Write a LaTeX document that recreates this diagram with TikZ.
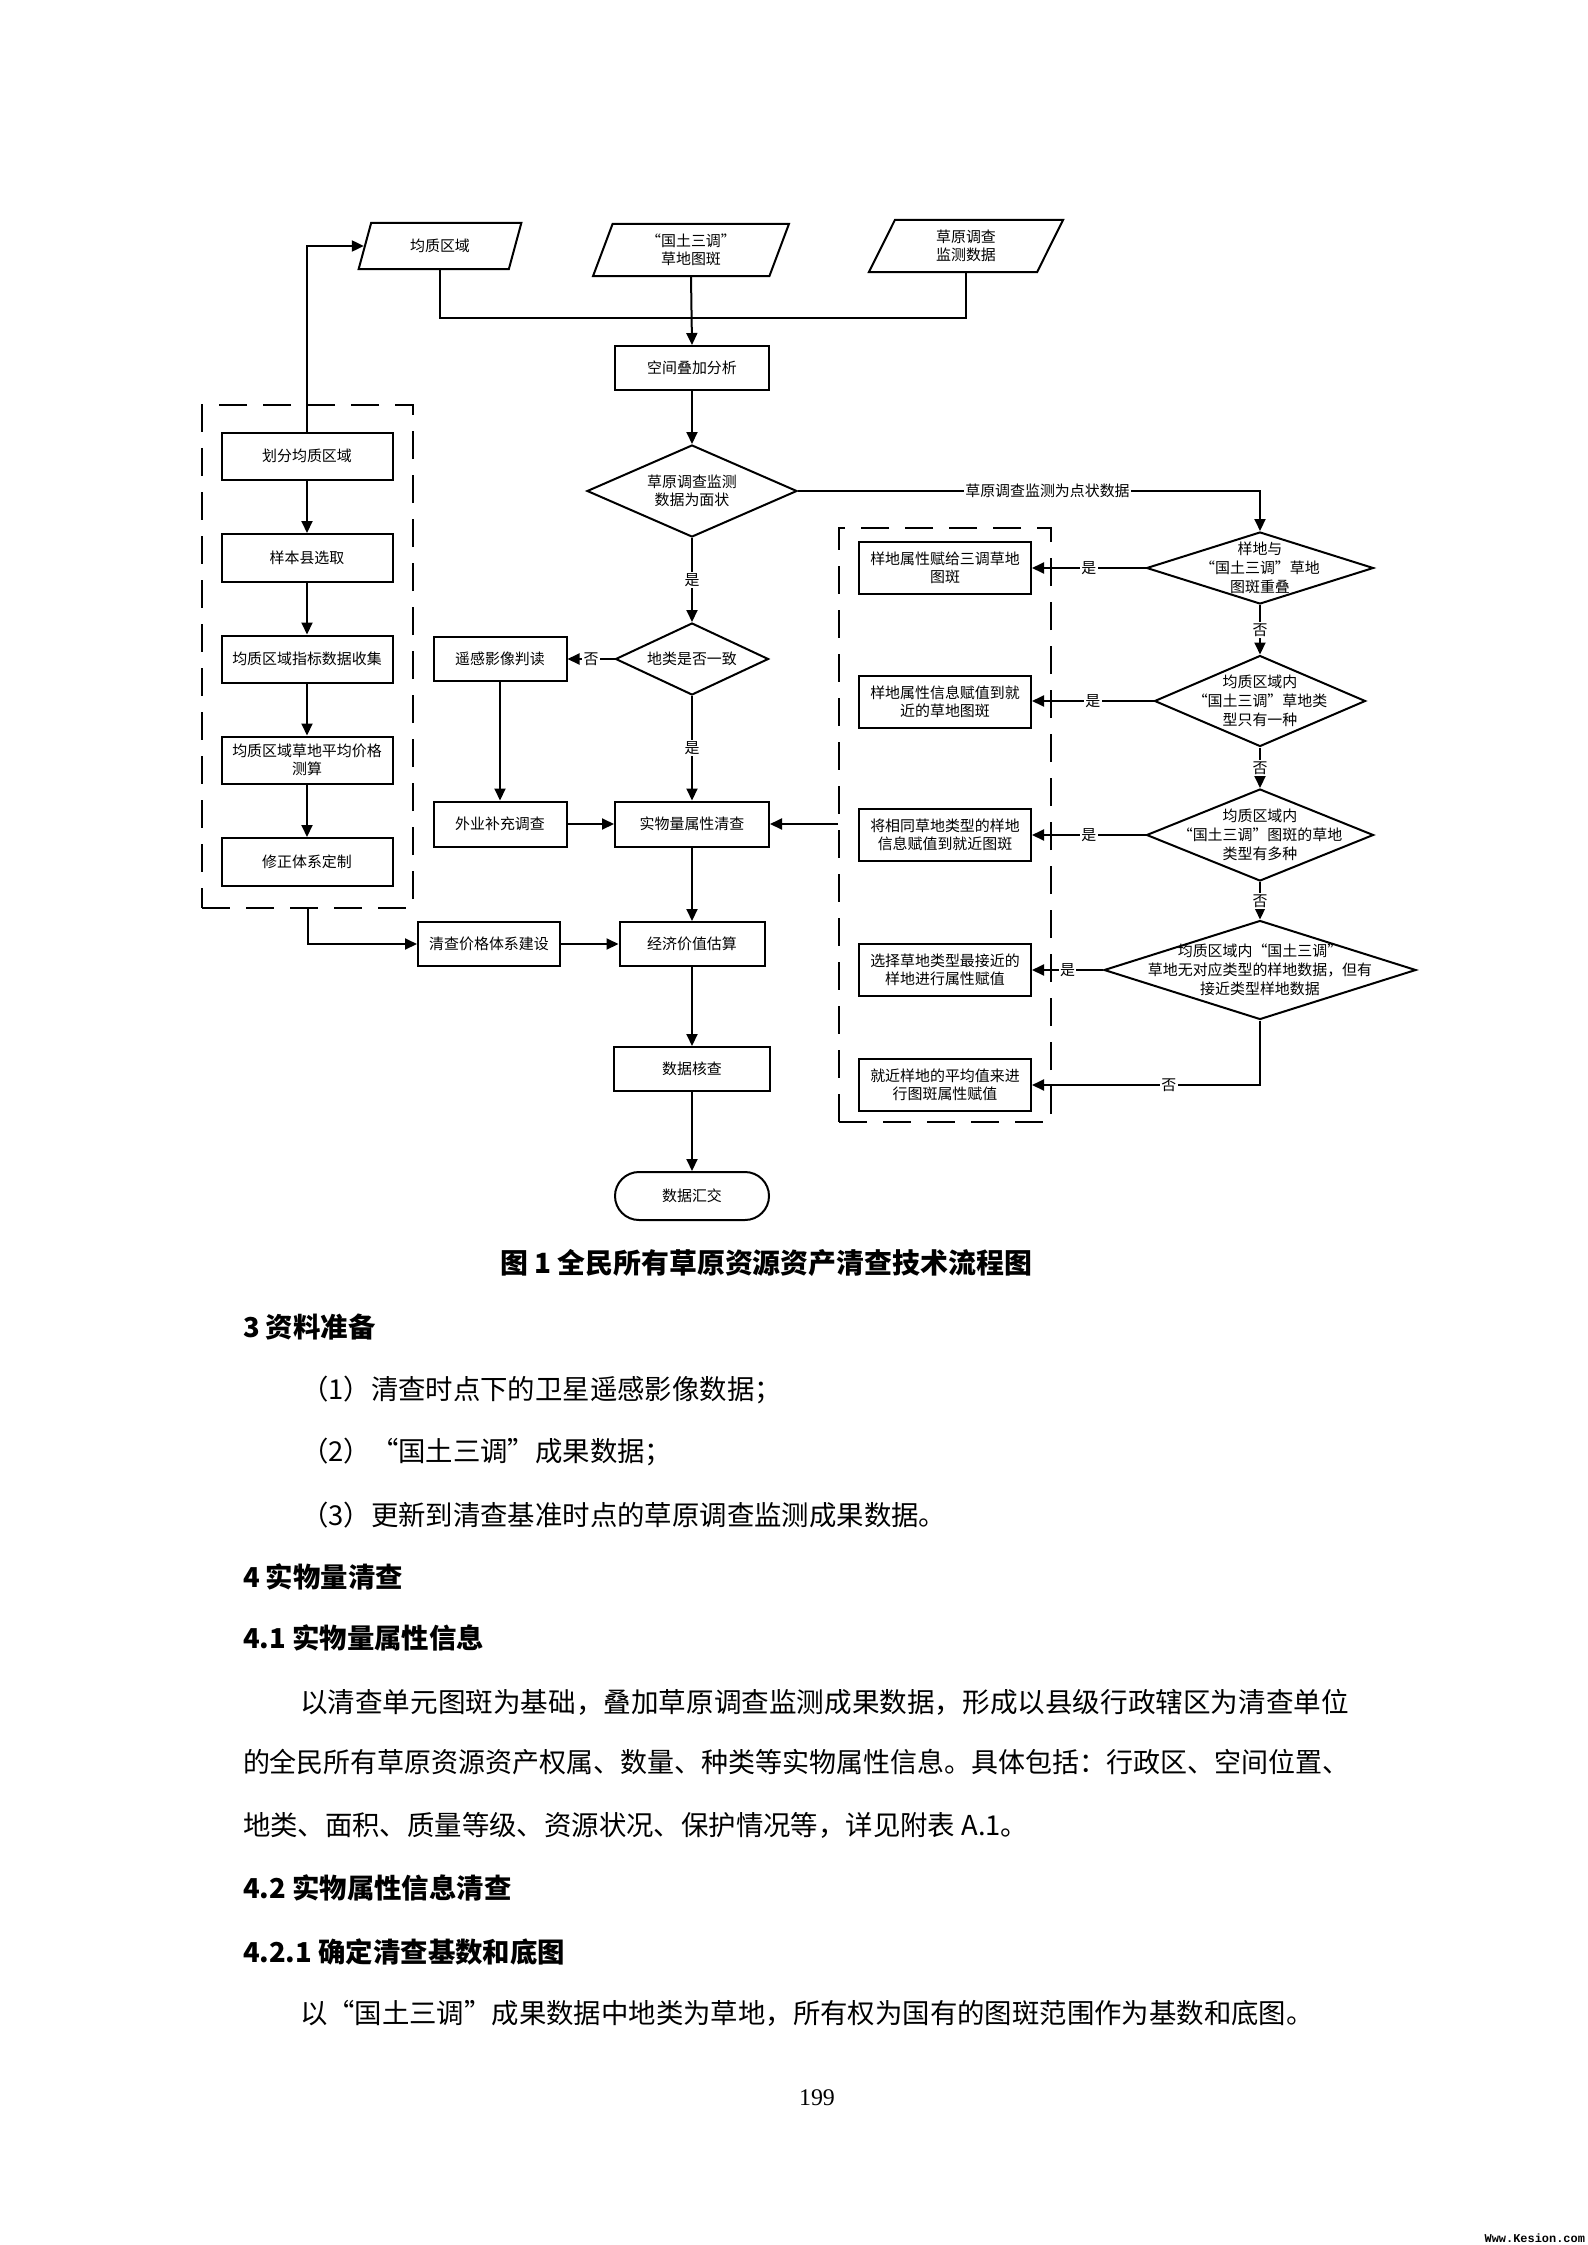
\documentclass[tikz,border=0pt]{standalone}
\usepackage{fontspec}
\usepackage{graphicx}
\setmainfont{Liberation Serif}
\newfontfamily\cjk{Noto Sans CJK SC}
\newfontfamily\wmfont{Liberation Mono}
\usetikzlibrary{arrows.meta, positioning, shapes.geometric, calc}

\begin{document}
\begin{tikzpicture}[x=1bp, y=-1bp, line width=2bp,
    font=\cjk\fontsize{15}{18}\selectfont,
    proc/.style={rectangle, draw, minimum width=#1, minimum height=44bp, inner sep=2bp, align=center},
    io/.style={trapezium, trapezium left angle=72, trapezium right angle=108, trapezium stretches=true,
        draw, minimum width=#1, minimum height=46bp, inner sep=2bp, align=center},
    dec/.style={diamond, draw, inner sep=0pt},
    grp/.style={draw, dash pattern=on 28bp off 16bp, inner sep=0pt},
    arr/.style={-{Triangle[length=12bp, width=11bp]}},
    lbl/.style={fill=white, inner sep=1.5bp},
    para/.style={anchor=west, inner sep=0pt, font=\cjk\fontsize{27.5}{30}\selectfont},
    head/.style={anchor=west, inner sep=0pt, font=\cjk\bfseries\fontsize{27.5}{30}\selectfont}]

    % page
    \fill[white] (0,0) rectangle (1587,2245);
    \useasboundingbox (0,0) rectangle (1587,2245);

    % input data
    \node[io=163bp] (junzhi) at (440,246) {均质区域};
    \node[io=196bp, minimum height=52bp] (guotu) at (691,250) {“国土三调”\\草地图斑};
    \node[io=195bp, minimum height=52bp] (caoyuan) at (966,246) {草原调查\\监测数据};

    % main flow
    \node[proc=154bp] (kongjian) at (692,368) {空间叠加分析};
    \node[dec, minimum width=210bp, minimum height=92bp] (mian) at (692,491) {};
    \node[align=center] (miant) at (mian) {草原调查监测\\数据为面状};
    \node[dec, minimum width=153bp, minimum height=72bp] (dilei) at (692,659) {};
    \node (dileit) at (dilei) {地类是否一致};
    \node[proc=133bp] (yaogan) at (500,659) {遥感影像判读};
    \node[proc=133bp, minimum height=45bp] (waiye) at (500,824) {外业补充调查};
    \node[proc=154bp, minimum height=45bp] (shiwu) at (692,824) {实物量属性清查};
    \node[proc=142bp] (jiage) at (489,944) {清查价格体系建设};
    \node[proc=145bp] (jingji) at (692,944) {经济价值估算};
    \node[proc=156bp] (hecha) at (692,1069) {数据核查};
    \node[draw, rounded corners=24bp, minimum width=154bp, minimum height=48bp] (huijiao) at (692,1196) {数据汇交};

    % price system group
    \node[grp, minimum width=211bp, minimum height=503bp] (zujia) at (307.5,656.5) {};
    \node[proc=171bp, minimum height=47bp] (huafen) at (307,456) {划分均质区域};
    \node[proc=171bp, minimum height=48bp] (yangben) at (307,558) {样本县选取};
    \node[proc=171bp, minimum height=47bp] (zhibiao) at (307,659) {均质区域指标数据收集};
    \node[proc=171bp, minimum height=47bp] (cesuan) at (307,760) {均质区域草地平均价格\\测算};
    \node[proc=171bp, minimum height=48bp] (xiuzheng) at (307,862) {修正体系定制};
    \foreach \a/\b in {huafen/yangben, yangben/zhibiao, zhibiao/cesuan, cesuan/xiuzheng}
        \draw[arr] (\a) -- (\b);

    % point data group
    \node[grp, minimum width=212bp, minimum height=594bp] (fuzhi) at (945,825) {};
    \foreach \nm/\yy/\txt in {b1/568/{样地属性赋给三调草地\\图斑},
                              b2/702/{样地属性信息赋值到就\\近的草地图斑},
                              b3/835/{将相同草地类型的样地\\信息赋值到就近图斑},
                              b4/970/{选择草地类型最接近的\\样地进行属性赋值},
                              b5/1085/{就近样地的平均值来进\\行图斑属性赋值}}
        \node[proc=172bp, minimum height=52bp] (\nm) at (945,\yy) {\txt};

    % decisions for point data
    \node[dec, minimum width=227bp, minimum height=72bp] (d1) at (1260,568) {};
    \node[align=center, font=\cjk\fontsize{15}{19}\selectfont] (d1t) at (d1) {样地与\\“国土三调”草地\\图斑重叠};
    \node[dec, minimum width=211bp, minimum height=91bp] (d2) at (1260,701) {};
    \node[align=center, font=\cjk\fontsize{15}{19}\selectfont] (d2t) at (d2) {均质区域内\\“国土三调”草地类\\型只有一种};
    \node[dec, minimum width=227bp, minimum height=92bp] (d3) at (1260,835) {};
    \node[align=center, font=\cjk\fontsize{15}{19}\selectfont] (d3t) at (d3) {均质区域内\\“国土三调”图斑的草地\\类型有多种};
    \node[dec, minimum width=312bp, minimum height=99bp] (d4) at (1260,970) {};
    \node[align=center, font=\cjk\fontsize{15}{19}\selectfont] (d4t) at (d4) {均质区域内“国土三调”\\草地无对应类型的样地数据，但有\\接近类型样地数据};

    % connectors
    \coordinate (hui) at (692,318);
    \draw (junzhi.south) |- (hui) -| (caoyuan.south);
    \draw[arr] (huafen.north) |- (junzhi.west);
    \draw[arr] (guotu.south) -- (kongjian.north);
    \draw[arr] (kongjian) -- (mian);
    \draw[arr] (mian) -- node[lbl]{是} (dilei);
    \draw[arr] (dilei) -- node[lbl]{否} (yaogan);
    \draw[arr] (yaogan) -- (waiye);
    \draw[arr] (dilei) -- node[lbl]{是} (shiwu);
    \draw[arr] (waiye) -- (shiwu);
    \draw[arr] (shiwu.east -| fuzhi.west) -- (shiwu.east);
    \draw[arr] (shiwu) -- (jingji);
    \draw[arr] (zujia.south) |- (jiage.west);
    \draw[arr] (jiage) -- (jingji);
    \draw[arr] (jingji) -- (hecha);
    \draw[arr] (hecha) -- (huijiao);

    \draw[arr] (mian.east) -| node[lbl, pos=0.27]{草原调查监测为点状数据} (d1.north);
    \draw[arr] (d1) -- node[lbl]{否} (d2);
    \draw[arr] (d2) -- node[lbl]{否} (d3);
    \draw[arr] (d3) -- node[lbl]{否} (d4);
    \foreach \d/\b in {d1/b1, d2/b2, d3/b3, d4/b4}
        \draw[arr] (\d.west) -- node[lbl]{是} (\d.west -| \b.east);
    \draw[arr] (d4.south) |- node[lbl, pos=0.7]{否} (b5.east);

    % caption and text
    \node[font=\cjk\bfseries\fontsize{28}{30}\selectfont] (tuming) at (766,1263) {图 1 全民所有草原资源资产清查技术流程图};
    \node[head] (h3) at (242,1327) {3 资料准备};
    \node[para] (l1) at (300,1390) {（1）清查时点下的卫星遥感影像数据；};
    \node[para] (l2) at (300,1452) {（2）“国土三调”成果数据；};
    \node[para] (l3) at (300,1515) {（3）更新到清查基准时点的草原调查监测成果数据。};
    \node[head] (h4) at (242,1577) {4 实物量清查};
    \node[head] (h41) at (242,1638) {4.1 实物量属性信息};
    \node[para] (p1) at (299,1702) {\resizebox{1049bp}{\height}{以清查单元图斑为基础，叠加草原调查监测成果数据，形成以县级行政辖区为清查单位}};
    \node[para] (p2) at (242,1762) {\resizebox{1106bp}{\height}{的全民所有草原资源资产权属、数量、种类等实物属性信息。具体包括：行政区、空间位置、}};
    \node[para] (p3) at (242,1825) {地类、面积、质量等级、资源状况、保护情况等，详见附表 A.1。};
    \node[head] (h42) at (242,1888) {4.2 实物属性信息清查};
    \node[head] (h421) at (242,1952) {4.2.1 确定清查基数和底图};
    \node[para] (p4) at (299,2013) {以“国土三调”成果数据中地类为草地，所有权为国有的图斑范围作为基数和底图。};
    \node[font=\fontsize{24}{24}\selectfont] (yema) at (817,2098) {199};
    \node[anchor=south east, inner sep=1bp, font=\wmfont\bfseries\fontsize{12}{12}\selectfont] (shuiyin) at (1587,2245) {Www.Kesion.com};
\end{tikzpicture}
\end{document}
